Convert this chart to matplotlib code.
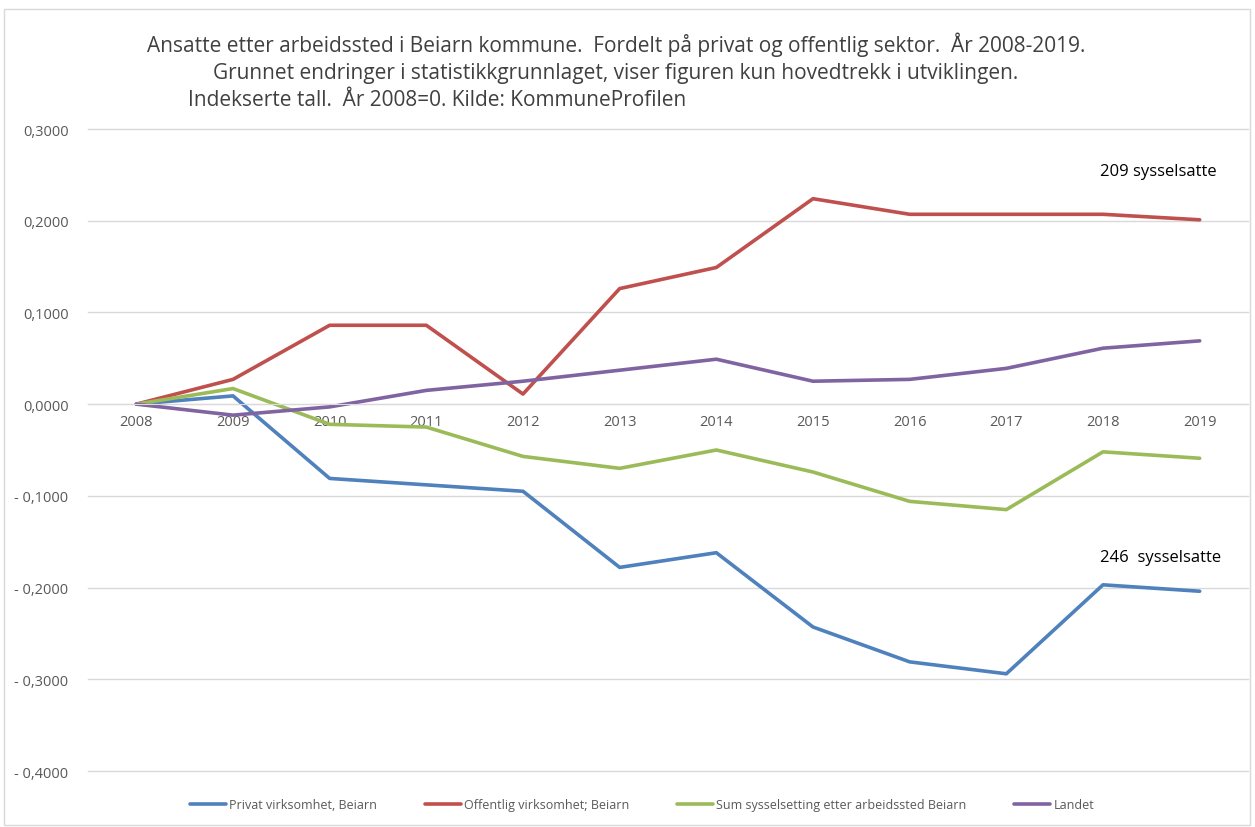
import matplotlib
matplotlib.use("Agg")
import matplotlib.pyplot as plt
from matplotlib.ticker import FuncFormatter

plt.rcParams["font.family"] = ["Open Sans", "DejaVu Sans"]

aar = ["2008", "2009", "2010", "2011", "2012", "2013",
       "2014", "2015", "2016", "2017", "2018", "2019"]

privat = [0.0, 0.009, -0.081, -0.088, -0.095, -0.178,
          -0.162, -0.243, -0.281, -0.294, -0.197, -0.204]
offentlig = [0.0, 0.027, 0.086, 0.086, 0.011, 0.126,
             0.149, 0.224, 0.207, 0.207, 0.207, 0.201]
sum_arbeidssted = [0.0, 0.017, -0.022, -0.025, -0.057, -0.070,
                   -0.050, -0.074, -0.106, -0.115, -0.052, -0.059]
landet = [0.0, -0.012, -0.003, 0.015, 0.025, 0.037,
          0.049, 0.025, 0.027, 0.039, 0.061, 0.069]

serier = [
    ("Privat virksomhet, Beiarn", privat, "#4F81BD"),
    ("Offentlig virksomhet; Beiarn", offentlig, "#C0504D"),
    ("Sum sysselsetting etter arbeidssted Beiarn", sum_arbeidssted, "#9BBB59"),
    ("Landet", landet, "#8064A2"),
]

W, H = 1255, 828
fig = plt.figure(figsize=(W / 100, H / 100), dpi=100)
ax = fig.add_axes([88 / W, 1 - 772 / H, 1160 / W, 642 / H])

x = list(range(len(aar)))
for navn, verdier, farge in serier:
    ax.plot(x, verdier, color=farge, linewidth=2.6, label=navn,
            solid_joinstyle="round", solid_capstyle="round")

ax.set_xlim(-0.5, len(aar) - 0.5)
ax.set_ylim(-0.4, 0.3)
ax.set_yticks([-0.4, -0.3, -0.2, -0.1, 0.0, 0.1, 0.2, 0.3])


def norsk(v, pos):
    s = f"{abs(v):.4f}".replace(".", ",")
    return f"- {s}" if v < -1e-9 else s


ax.yaxis.set_major_formatter(FuncFormatter(norsk))
ax.grid(axis="y", color="#d9d9d9", linewidth=1)
for gl in ax.get_ygridlines():
    gl.set_clip_on(False)
ax.set_axisbelow(True)
for side in ["left", "right", "top"]:
    ax.spines[side].set_visible(False)
ax.spines["bottom"].set_position(("data", 0))
ax.spines["bottom"].set_color("#d9d9d9")
ax.set_xticks(x)
ax.set_xticklabels(aar)
ax.tick_params(axis="both", length=0, labelsize=10.5, labelcolor="#595959")
ax.tick_params(axis="x", pad=7)
ax.tick_params(axis="y", pad=14)

ax.text(1100 / W, 1 - 172 / H, "209 sysselsatte", transform=fig.transFigure,
        fontsize=12, va="center")
ax.text(1100 / W, 1 - 558 / H, "246  sysselsatte", transform=fig.transFigure,
        fontsize=12, va="center")

tittel = [
    ("Ansatte etter arbeidssted i Beiarn kommune.  Fordelt på privat og offentlig sektor.  År 2008-2019.", 616, 45, "center"),
    ("Grunnet endringer i statistikkgrunnlaget, viser figuren kun hovedtrekk i utviklingen.", 616, 73, "center"),
    ("Indekserte tall.  År 2008=0. Kilde: KommuneProfilen", 188, 101, "left"),
]
for tekst, tx, ty, ha in tittel:
    fig.text(tx / W, 1 - ty / H, tekst, fontsize=15, color="#404040",
             ha=ha, va="center")

leg = fig.legend(loc="center", bbox_to_anchor=(642 / W, 1 - 806 / H), ncol=4,
                 frameon=False, fontsize=9, handlelength=2.9,
                 handletextpad=0.25, columnspacing=3.8)
for t in leg.get_texts():
    t.set_color("#595959")

fig.patches.append(plt.Rectangle((4 / W, 2 / H), 1246 / W, 816 / H,
                                 transform=fig.transFigure, fill=False,
                                 edgecolor="#d9d9d9", linewidth=1))

fig.savefig("out.png", dpi=100)
